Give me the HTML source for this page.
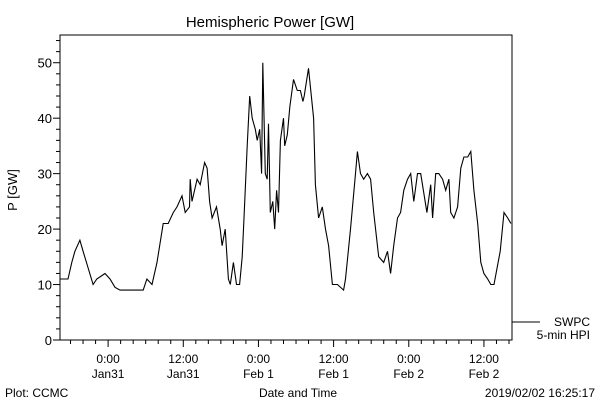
<!DOCTYPE html>
<html><head><meta charset="utf-8"><style>
body{margin:0;background:#fff}
svg{display:block;font-family:"Liberation Sans",sans-serif}
</style></head><body>
<svg id="c" width="600" height="400" viewBox="0 0 600 400">
<rect width="600" height="400" fill="#fff"/>
<text x="270" y="27" text-anchor="middle" font-size="15">Hemispheric Power [GW]</text>
<text transform="translate(17,190) rotate(-90)" text-anchor="middle" font-size="13">P [GW]</text>
<text x="298" y="397" text-anchor="middle" font-size="12">Date and Time</text>
<text x="5" y="397" font-size="12">Plot: CCMC</text>
<text x="595" y="397" text-anchor="end" font-size="12">2019/02/02 16:25:17</text>
<g>
<line x1="512" y1="322" x2="540" y2="322" stroke="#000"/>
<text x="590" y="326" text-anchor="end" font-size="12">SWPC</text>
<text x="590" y="339" text-anchor="end" font-size="12">5-min HPI</text>
</g>
<g id="axes"></g>
<rect x="60" y="35" width="452" height="305" fill="none" stroke="#000"/>
</svg>
<script>
const hours=[-7.7,-6.4,-5.8,-5.3,-4.5,-4.0,-3.2,-2.4,-1.8,-0.5,0.3,1.1,1.9,5.6,6.2,7.0,7.8,8.8,9.6,10.4,11.0,11.8,12.3,13.0,13.1,13.4,14.2,14.7,15.4,15.8,16.2,16.6,17.3,17.9,18.2,18.7,19.2,19.5,20.0,20.5,21.0,21.4,21.7,22.2,22.6,23.0,23.5,23.8,24.2,24.5,24.7,25.1,25.4,25.6,25.9,26.3,26.6,26.9,27.2,27.5,28.0,28.2,28.6,29.0,29.6,30.2,30.7,31.1,31.3,32.0,32.8,33.1,33.6,34.2,34.7,35.2,35.8,36.6,37.6,37.9,38.7,39.5,39.8,40.3,40.8,41.4,41.9,42.4,43.2,44.0,44.6,45.1,45.6,46.2,46.7,47.2,47.8,48.3,48.8,49.4,49.9,50.9,51.5,51.8,52.3,52.8,53.4,53.9,54.4,54.7,55.2,55.8,56.3,56.8,57.4,57.9,58.4,59.0,59.5,60.0,60.6,61.1,61.6,62.6,63.2,63.8,64.3,64.6];
const power=[11,11,14,16,18,16,13,10,11,12,11,9.5,9,9,11,10,14,21,21,23,24,26,23,24,29,25,29,28,32,31,25,22,24,20,17,20,11,10,14,10,10,15,22,35,44,40,38,36,38,30,50,30,29,39,23,25,20,27,23,36,40,35,37,42,47,45,45,43,44,49,40,28,22,24,20,17,10,10,9,11,20,30,34,30,29,30,29,23,15,14,16,12,17,22,23,27,29,30,25,30,30,23,28,22,30,30,29,27,29,23,22,24,31,33,33,34,27,21,14,12,11,10,10,16,23,22,21];
const yTicks=[0,10,20,30,40,50];
const xTickHours=[0,12,24,36,48,60];
const xTickTimes=["0:00","12:00","0:00","12:00","0:00","12:00"];
const xTickDates=["Jan31","Jan31","Feb 1","Feb 1","Feb 2","Feb 2"];
const L=60,R=512,T=35,B=340,H0=-7.68,H1=64.48,V0=0,V1=55;
const xs=h=>L+(h-H0)/(H1-H0)*(R-L);
const ys=v=>B-(v-V0)/(V1-V0)*(B-T);
const NS="http://www.w3.org/2000/svg";
const svg=document.getElementById('c'),ax=document.getElementById('axes');
function mk(t,a,p){const e=document.createElementNS(NS,t);for(const k in a)e.setAttribute(k,a[k]);(p||ax).appendChild(e);return e;}
for(let v=0;v<=54;v+=2){const big=v%10===0;
const t=mk('line',{x1:L-(big?7:4),x2:L,y1:ys(v),y2:ys(v),stroke:'#000'});

}
yTicks.forEach(v=>{const t=mk('text',{x:L-8,y:ys(v)+5,'text-anchor':'end','font-size':13});t.textContent=v;

});
for(let h=-6;h<=64;h+=2){const big=h%12===0;
const t=mk('line',{x1:xs(h),x2:xs(h),y1:B,y2:B+(big?7:4),stroke:'#000'});

}
xTickHours.forEach((h,i)=>{const t=mk('text',{x:xs(h),y:363,'text-anchor':'middle','font-size':12});t.textContent=xTickTimes[i];


const d=mk('text',{x:xs(h),y:378,'text-anchor':'middle','font-size':12});d.textContent=xTickDates[i];

});
const pl=mk('polyline',{points:hours.map((h,i)=>xs(h).toFixed(1)+','+ys(power[i]).toFixed(1)).join(' '),fill:'none',stroke:'#000','stroke-width':1.1});


</script>
</body></html>
